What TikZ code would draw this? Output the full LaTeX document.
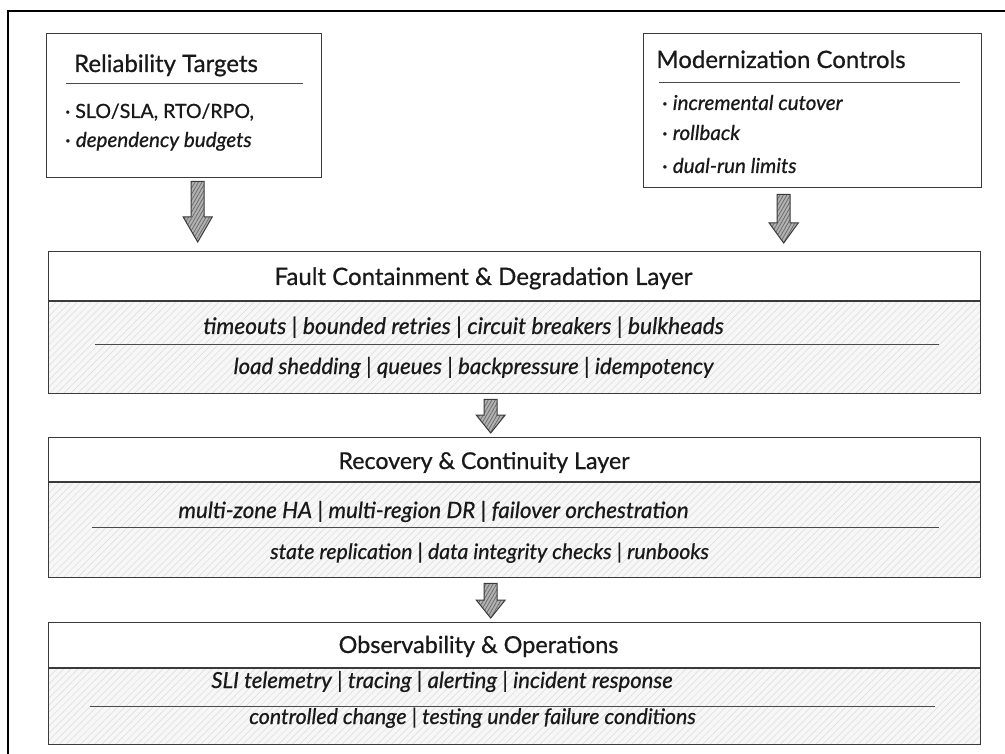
\documentclass[tikz,border=0pt]{standalone}
\usepackage{fontspec}
\setmainfont{Lato}[FakeBold=0.7]
\usetikzlibrary{calc,patterns.meta}
\definecolor{edgecol}{HTML}{3A3A3A}
\definecolor{rulecol}{HTML}{4A4A4A}
\newcommand\fatarrow[3]{%
  \filldraw[fatarr] let \p1=#1, \p2=#2 in
   (\x1-6.5pt,\y1) -- (\x1+6.5pt,\y1) -- (\x1+6.5pt,\y2+#3) -- (\x1+14.5pt,\y2+#3)
   -- (\x1,\y2) -- (\x1-14.5pt,\y2+#3) -- (\x1-6.5pt,\y2+#3) -- cycle;}
\begin{document}
\begin{tikzpicture}[x=1pt,y=-1pt,
  box/.style={draw=edgecol, line width=1.4pt, inner sep=0pt, anchor=north west},
  hatchfill/.style={preaction={fill=gray!6}, pattern={Lines[angle=45,distance=5pt,line width=0.5pt]}, pattern color=gray!28},
  fatarr/.style={draw=edgecol, line width=1pt, line join=miter, preaction={fill=gray!60},
    pattern={Lines[angle=60,distance=3pt,line width=0.8pt]}, pattern color=gray!85!black},
  ttl/.style={inner sep=0pt, anchor=base, font=\fontsize{#1}{#1}\selectfont, text=black!90},
  bttl/.style={inner sep=0pt, anchor=base, font=\fontsize{24}{28}\selectfont, text=black!90},
  row/.style={inner sep=0pt, anchor=base, font=\itshape\fontsize{#1}{#1}\selectfont, text=black!90},
  bul/.style={inner sep=0pt, anchor=base west, font=\fontsize{19.6}{24}\selectfont, text=black!90},
  bulit/.style={bul, font=\itshape\fontsize{20.6}{24}\selectfont},
  thinrule/.style={draw=rulecol, line width=1pt}
]
\useasboundingbox (0,0) rectangle (1005,754);
\fill[white] (0,0) rectangle (1005,754);
\draw[black, line width=1.3pt] (8,754) -- (8,11) -- (1005,11);

% top boxes
\node[box, minimum width=275pt, minimum height=144pt] (RT) at (46,33) {};
\node[bttl] (RTt) at (166,72) {Reliability Targets};
\draw[thinrule] (66,84) -- (303,84);
\node[bul] (RT1) at (65,118) {· SLO/SLA, RTO/RPO,};
\node[bulit] (RT2) at (65,147) {\upshape· \itshape dependency budgets};

\node[box, minimum width=338pt, minimum height=154pt] (MC) at (643,33) {};
\node[bttl] (MCt) at (781,68) {Modernization Controls};
\draw[thinrule] (659,83) -- (960,83);
\node[bulit] (MC1) at (662,110) {\upshape· \itshape incremental cutover};
\node[bulit] (MC2) at (662,140) {\upshape· \itshape rollback};
\node[bulit] (MC3) at (662,173) {\upshape· \itshape dual-run limits};

% layer 1
\path[hatchfill] (48,301) rectangle (980,393);
\node[box, minimum width=932pt, minimum height=142pt] (L1) at (48,251) {};
\draw[box] (48,301) -- (980,301);
\draw[thinrule] (95,345) -- (939,345);
\node[ttl=24] (L1t) at (483.5,285) {Fault Containment \& Degradation Layer};
\node[row=22.8] (L1a) at (463.5,334) {timeouts | bounded retries | circuit breakers | bulkheads};
\node[row=22.2] (L1b) at (473.5,374) {load shedding | queues | backpressure | idempotency};

% layer 2
\path[hatchfill] (48,482) rectangle (980,577);
\node[box, minimum width=932pt, minimum height=140pt] (L2) at (48,437) {};
\draw[box] (48,482) -- (980,482);
\draw[thinrule] (92,527) -- (939,527);
\node[ttl=23.2] (L2t) at (484,469) {Recovery \& Continuity Layer};
\node[row=22.4] (L2a) at (433.5,518) {multi-zone HA | multi-region DR | failover orchestration};
\node[row=21.3] (L2b) at (489.5,559) {state replication | data integrity checks | runbooks};

% layer 3
\path[hatchfill] (48,668) rectangle (980,744);
\node[box, minimum width=932pt, minimum height=122pt] (L3) at (48,622) {};
\draw[box] (48,668) -- (980,668);
\draw[thinrule] (90,706) -- (935,706);
\node[ttl=23.4] (L3t) at (478.5,653) {Observability \& Operations};
\node[row=22.1] (L3a) at (442,688) {SLI telemetry | tracing | alerting | incident response};
\node[row=21.4] (L3b) at (472.5,724) {controlled change | testing under failure conditions};

% arrows
\fatarrow{($(RT.south)+(13.5,3)$)}{($(L1.north)+(0,-9)$)}{25pt}
\fatarrow{($(MC.south)+(-29,6)$)}{($(L1.north)+(0,-8)$)}{20pt}
\fatarrow{($(L1.south)+(-24,5)$)}{($(L2.north)+(0,-4)$)}{18pt}
\fatarrow{($(L2.south)+(-24,5)$)}{($(L3.north)+(0,-4)$)}{18pt}
\end{tikzpicture}
\end{document}
